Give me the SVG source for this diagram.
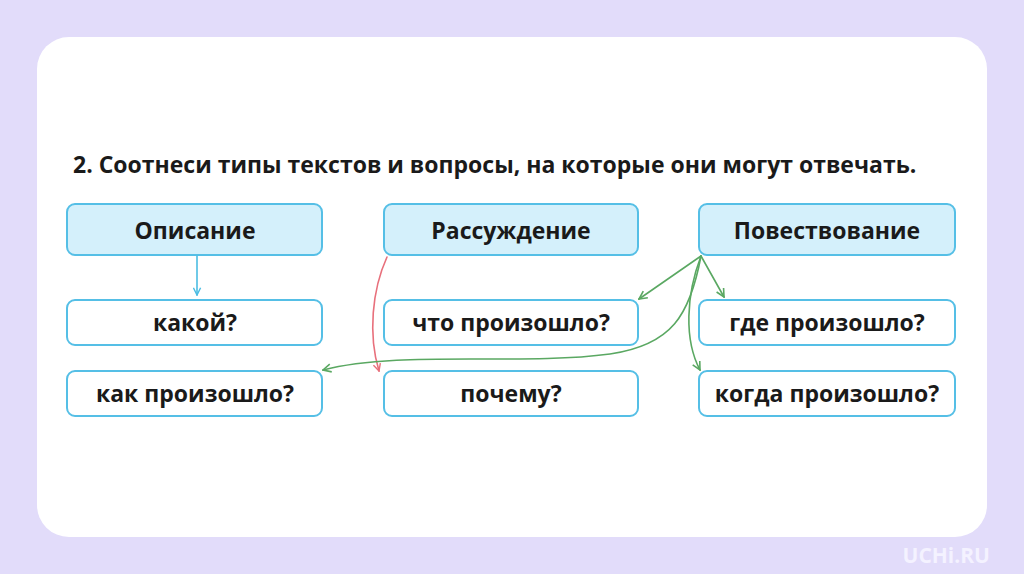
<svg xmlns="http://www.w3.org/2000/svg" width="1024" height="574" viewBox="0 0 1024 574">
<defs>
<style>
.box{fill:#ffffff;stroke:#55bfe6;stroke-width:2}
.hdr{fill:#d4f0fb;stroke:#55bfe6;stroke-width:2}
.t{font-family:"Open Sans","Noto Sans","DejaVu Sans",sans-serif;font-weight:700;font-size:23px;fill:#1a1a1a;text-anchor:middle}
.title{font-family:"Open Sans","Noto Sans","DejaVu Sans",sans-serif;font-weight:700;font-size:23px;fill:#1a1a1a}
.c{fill:none;stroke-width:1.6;stroke-linecap:round}
</style>
<marker id="ab" viewBox="0 0 10 10" refX="9" refY="5" markerWidth="9" markerHeight="9" markerUnits="userSpaceOnUse" orient="auto"><path d="M1,1 L9,5 L1,9" fill="none" stroke="#4bbde3" stroke-width="1.6"/></marker>
<marker id="ar" viewBox="0 0 10 10" refX="9" refY="5" markerWidth="9" markerHeight="9" markerUnits="userSpaceOnUse" orient="auto"><path d="M1,1 L9,5 L1,9" fill="none" stroke="#e8707c" stroke-width="1.6"/></marker>
<marker id="ag" viewBox="0 0 10 10" refX="9" refY="5" markerWidth="10" markerHeight="10" markerUnits="userSpaceOnUse" orient="auto"><path d="M1,1 L9,5 L1,9" fill="none" stroke="#5aa862" stroke-width="1.6"/></marker>
</defs>
<rect x="0" y="0" width="1024" height="574" fill="#e2dcfa"/>
<rect x="37" y="37" width="950" height="500" rx="32" fill="#ffffff"/>
<text x="990" y="563" font-family="'Open Sans','Noto Sans',sans-serif" font-weight="700" font-size="21" fill="#f4f2ff" text-anchor="end">UCHi.RU</text>
<text class="title" x="73" y="173">2. Соотнеси типы текстов и вопросы, на которые они могут отвечать.</text>

<g id="n-opisanie"><rect class="hdr" x="67" y="204" width="255" height="51" rx="8"/><text class="t" x="195" y="239">Описание</text></g>
<g id="n-rassuzhdenie"><rect class="hdr" x="384" y="204" width="254" height="51" rx="8"/><text class="t" x="511" y="239">Рассуждение</text></g>
<g id="n-povestvovanie"><rect class="hdr" x="699" y="204" width="256" height="51" rx="8"/><text class="t" x="827" y="239">Повествование</text></g>

<g id="n-kakoy"><rect class="box" x="67" y="300" width="255" height="45" rx="8"/><text class="t" x="195" y="331">какой?</text></g>
<g id="n-chto"><rect class="box" x="384" y="300" width="254" height="45" rx="8"/><text class="t" x="511" y="331">что произошло?</text></g>
<g id="n-gde"><rect class="box" x="699" y="300" width="256" height="45" rx="8"/><text class="t" x="827" y="331">где произошло?</text></g>

<g id="n-kak"><rect class="box" x="67" y="371" width="255" height="45" rx="8"/><text class="t" x="195" y="402">как произошло?</text></g>
<g id="n-pochemu"><rect class="box" x="384" y="371" width="254" height="45" rx="8"/><text class="t" x="511" y="402">почему?</text></g>
<g id="n-kogda"><rect class="box" x="699" y="371" width="256" height="45" rx="8"/><text class="t" x="827" y="402">когда произошло?</text></g>

<g id="connectors">
<path class="c" stroke="#4bbde3" d="M197,256 L197,295" marker-end="url(#ab)"/>
<path class="c" stroke="#e8707c" d="M387,257 C372,290 368,335 379,371" marker-end="url(#ar)"/>
<path class="c" stroke="#5aa862" d="M701,256 L639,299" marker-end="url(#ag)"/>
<path class="c" stroke="#5aa862" d="M701,256 L724,297" marker-end="url(#ag)"/>
<path class="c" stroke="#5aa862" d="M701,256 C686,295 684,340 700,370" marker-end="url(#ag)"/>
<path class="c" stroke="#5aa862" d="M701,256 C690,315 672,345 610,354 C520,366 400,350 323,370" marker-end="url(#ag)"/>
</g>
</svg>
